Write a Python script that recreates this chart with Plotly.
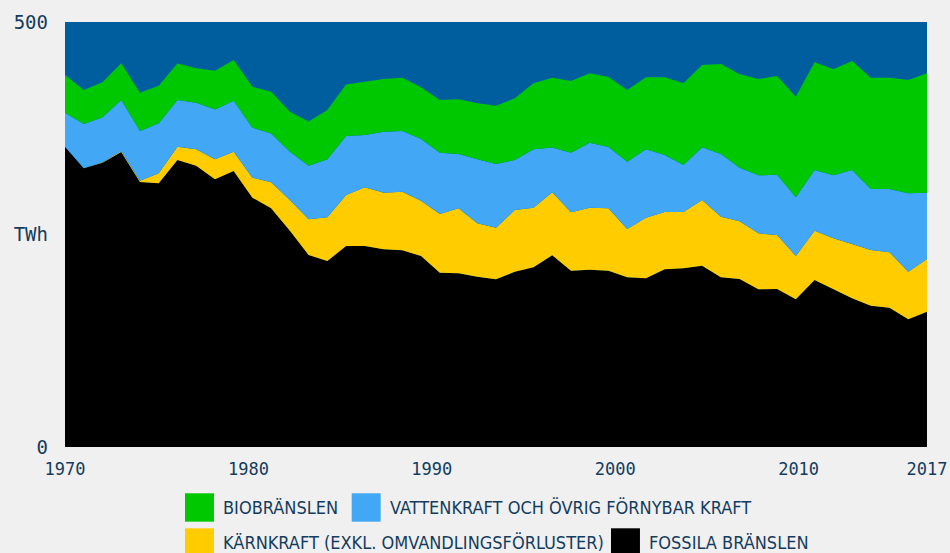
import plotly.graph_objects as go

# ---- data (TWh), one value per year ----
years = list(range(1970, 2017))

fossila = [353.3, 327.9, 334.5, 347.1, 311.8, 310.2, 337.6, 330.9, 314.9, 324.7,
           293.3, 281.0, 254.5, 225.9, 218.8, 236.5, 236.5, 232.6, 231.4, 224.7,
           205.1, 204.4, 200.4, 197.3, 206.2, 211.4, 225.5, 207.4, 208.6, 207.4,
           199.6, 198.5, 209.1, 210.2, 213.3, 199.6, 197.6, 185.5, 185.9, 173.8,
           196.5, 185.5, 174.9, 166.2, 163.9, 150.2, 159.2]
karnkraft = [0.0, 0.0, 0.5, 1.2, 1.5, 11.8, 15.6, 19.3, 23.5, 22.7,
             23.5, 30.4, 36.1, 42.0, 51.4, 60.0, 69.1, 66.6, 68.9, 65.1,
             69.1, 76.5, 62.8, 60.7, 72.6, 70.1, 74.1, 68.7, 72.9, 73.4,
             56.8, 71.3, 67.4, 66.2, 77.3, 71.3, 67.9, 65.9, 63.5, 50.9,
             58.0, 60.0, 63.9, 65.5, 65.2, 56.0, 62.0]
vattenkraft = [40.0, 52.1, 52.9, 60.0, 58.5, 58.8, 54.9, 54.8, 58.8, 60.0,
               58.8, 57.3, 56.8, 63.1, 68.2, 69.4, 61.5, 71.8, 71.4, 72.6,
               72.1, 63.9, 75.3, 74.9, 58.8, 68.7, 52.9, 70.1, 76.5, 72.1,
               79.2, 80.5, 67.1, 55.3, 62.0, 73.8, 63.1, 68.2, 70.9, 69.1,
               71.4, 74.1, 87.1, 71.8, 74.5, 92.2, 78.0]
biobransle = [44.4, 40.0, 41.2, 43.2, 45.1, 44.2, 43.2, 40.5, 45.4, 47.9,
              48.2, 49.1, 47.1, 51.8, 58.0, 60.6, 62.7, 62.0, 62.7, 60.8,
              62.0, 64.4, 65.9, 68.6, 72.6, 77.6, 81.9, 84.4, 81.6, 82.4,
              84.4, 84.7, 91.4, 96.1, 96.8, 105.9, 109.9, 113.3, 116.1, 118.4,
              126.7, 124.7, 128.2, 130.9, 130.9, 133.3, 140.5]

series_names = ["FOSSILA BRÄNSLEN", "KÄRNKRAFT (EXKL. OMVANDLINGSFÖRLUSTER)",
                "VATTENKRAFT OCH ÖVRIG FÖRNYBAR KRAFT", "BIOBRÄNSLEN"]
series_values = [fossila, karnkraft, vattenkraft, biobransle]
series_colors = ["#000000", "#ffcc00", "#42a7f4", "#00c800"]

x_tick_vals = [1970, 1980, 1990, 2000, 2010, 2017]
y_tick_vals = [0, 250, 500]
y_tick_text = ["0", "TWh", "500"]

TEXT = "#143c5e"
MONO = "DejaVu Sans Mono, Liberation Mono, monospace"
NARROW = "DejaVu Sans Condensed, Roboto, sans-serif"

fig = go.Figure()
for name, vals, col in zip(series_names, series_values, series_colors):
    fig.add_trace(go.Scatter(
        x=years, y=vals, name=name, stackgroup="one", mode="lines",
        line=dict(width=0, color=col), fillcolor=col, showlegend=False,
        hovertemplate="%{x}: %{y} TWh<extra>" + name + "</extra>"))

# helper trace so the labelled year axis is drawn
fig.add_trace(go.Scatter(x=[x_tick_vals[0], x_tick_vals[-1]], y=[0, 0],
                         xaxis="x2", mode="none", showlegend=False,
                         hoverinfo="skip"))

fig.update_layout(
    width=950, height=553,
    margin=dict(l=65, r=23, t=22, b=106, autoexpand=False),
    paper_bgcolor="#f0f0f0",
    plot_bgcolor="#005e9f",
    xaxis=dict(range=[years[0], years[-1]], showticklabels=False,
               showgrid=False, zeroline=False, showline=False, ticks="",
               automargin=False),
    xaxis2=dict(overlaying="x", anchor="y", side="bottom",
                range=[x_tick_vals[0], x_tick_vals[-1]],
                tickvals=x_tick_vals, showgrid=False, zeroline=False,
                showline=False, ticks="", ticklabelstandoff=10,
                automargin=False,
                tickfont=dict(family=MONO, size=17, color=TEXT)),
    yaxis=dict(range=[0, 500], tickvals=y_tick_vals, ticktext=y_tick_text,
               showgrid=False, zeroline=False, showline=False, ticks="",
               ticklabelstandoff=16, automargin=False,
               tickfont=dict(family=MONO, size=19, color=TEXT)),
    showlegend=False,
)

# legend drawn as squares + labels below the plot
legend_items = [
    ("BIOBRÄNSLEN", "#00c800", 0.1392, 0),
    ("VATTENKRAFT OCH ÖVRIG FÖRNYBAR KRAFT", "#42a7f4", 0.3326, 0),
    ("KÄRNKRAFT (EXKL. OMVANDLINGSFÖRLUSTER)", "#ffcc00", 0.1392, 1),
    ("FOSSILA BRÄNSLEN", "#000000", 0.6334, 1),
]
row_top = [-0.1089, -0.1913]
sq_w, sq_h = 0.0336, 0.0668
for label, col, x0, row in legend_items:
    y1 = row_top[row]
    fig.add_shape(type="rect", xref="paper", yref="paper",
                  x0=x0, x1=x0 + sq_w, y0=y1 - sq_h, y1=y1,
                  fillcolor=col, line=dict(width=0))
    fig.add_annotation(xref="paper", yref="paper", x=x0 + sq_w + 0.0085,
                       y=y1 - sq_h / 2, text=label, showarrow=False,
                       xanchor="left", yanchor="middle",
                       font=dict(family=NARROW, size=18, color=TEXT))

fig.write_html("out.html",
               config={"displayModeBar": False},
               post_script="document.body.style.margin='0';"
                           "document.body.style.overflow='hidden';")
